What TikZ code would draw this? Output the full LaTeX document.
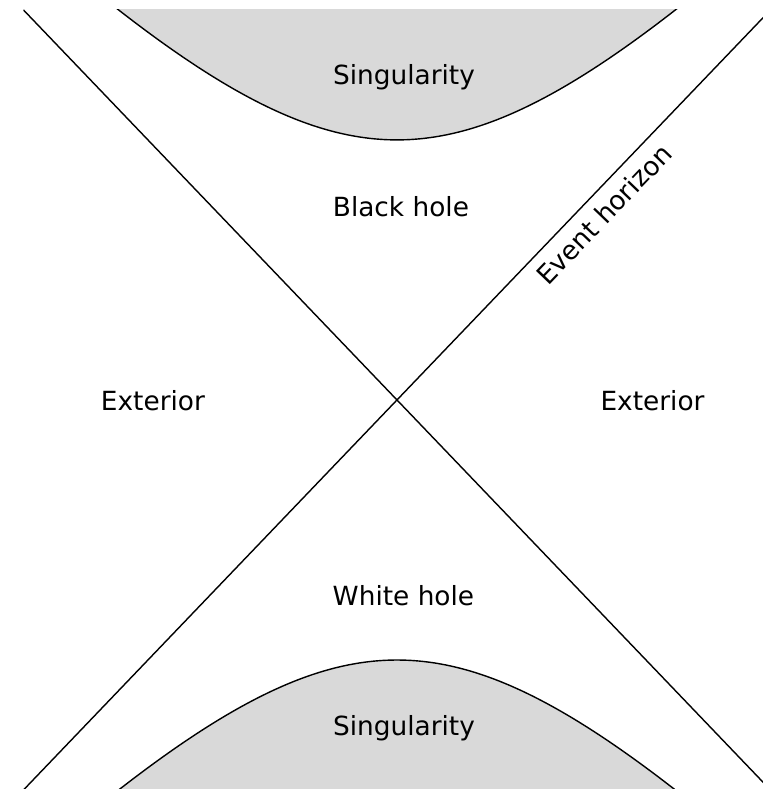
\documentclass[tikz,border=0pt]{standalone}
\usepackage{fontspec}
\setmainfont{DejaVu Sans}
\definecolor{singgray}{RGB}{217,217,217}
\tikzset{
  region/.style={anchor=base, inner sep=0pt},
  singfill/.style={fill=singgray, draw=black, line width=0.4pt},
}
\begin{document}
\begin{tikzpicture}[x=2.49cm, y=2.6cm, font=\fontsize{7.5}{9}\selectfont]
        \useasboundingbox (-1.594,-1.496) rectangle (1.466,1.538);

        % ---- corners of the diagram ----
        \coordinate (nw) at (-1.5, 1.5);
        \coordinate (ne) at ( 1.5, 1.5);
        \coordinate (sw) at (-1.5,-1.5);
        \coordinate (se) at ( 1.5,-1.5);

        \begin{scope}
          \clip (sw) rectangle (ne);

          % ---- singularities (hyperbolas T^2 - X^2 = 1) ----
          \draw[singfill] plot[smooth, domain=-1.5:1.5, samples=61] (\x,{sqrt(1+\x*\x)})
              -- (1.5,2) -- (-1.5,2) -- cycle;
          \draw[singfill] plot[smooth, domain=-1.5:1.5, samples=61] (\x,{-sqrt(1+\x*\x)})
              -- (1.5,-2) -- (-1.5,-2) -- cycle;

          % ---- horizons ----
          \draw[line width=0.4pt] (nw) -- (se);
          \draw[line width=0.4pt] (sw) -- (ne);
        \end{scope}

        % ---- region labels ----
        \node[region] (singtop) at (0.028, 1.212) {Singularity};
        \node[region] (blackhole) at (0.016, 0.704) {Black hole};
        \node[region] (extleft) at (-0.980,-0.042) {Exterior};
        \node[region] (extright) at (1.026,-0.042) {Exterior};
        \node[region] (whitehole) at (0.026,-0.792) {White hole};
        \node[region] (singbot) at (0.028,-1.292) {Singularity};

        % horizon label, along the line
        \node[rotate=46.2, inner sep=0pt] (horizon) at (0.831, 0.715) {Event horizon};
\end{tikzpicture}
\end{document}
